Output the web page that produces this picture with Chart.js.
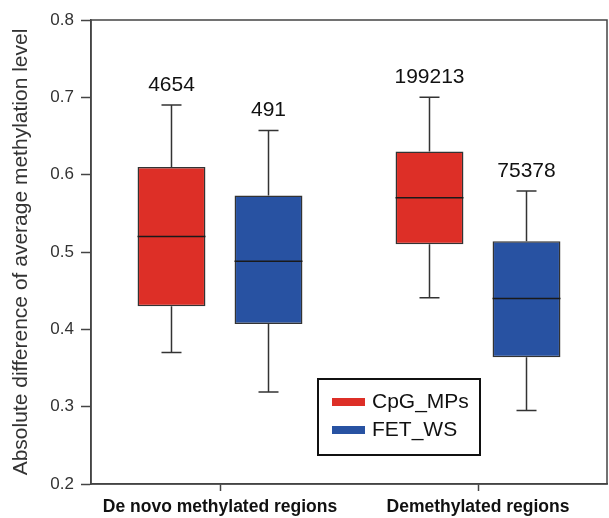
<!DOCTYPE html>
<html>
<head>
<meta charset="utf-8">
<script src="https://cdn.jsdelivr.net/npm/chart.js@4/dist/chart.umd.min.js"></script>
<style>
  body { margin: 0; background: #fff; }
  #wrap { width: 609px; height: 518px; position: relative; }
</style>
</head>
<body>
<div id="wrap"><canvas id="boxChart"></canvas></div>
<script>
// Box plot data
const categories = ["De novo methylated regions", "Demethylated regions"];
const seriesNames = ["CpG_MPs", "FET_WS"];
const seriesColors = ["#dd2f27", "#2852a2"];

const cpgMin    = [0.370, 0.441];
const cpgQ1     = [0.430, 0.510];
const cpgMedian = [0.520, 0.570];
const cpgQ3     = [0.610, 0.630];
const cpgMax    = [0.690, 0.700];
const cpgCounts = ["4654", "199213"];

const fetMin    = [0.319, 0.295];
const fetQ1     = [0.407, 0.364];
const fetMedian = [0.488, 0.440];
const fetQ3     = [0.573, 0.514];
const fetMax    = [0.657, 0.579];
const fetCounts = ["491", "75378"];

const yTicks = [0.2, 0.3, 0.4, 0.5, 0.6, 0.7, 0.8];

const FONT = "'Liberation Sans', Arial, sans-serif";

const stats = [
  { min: cpgMin, q1: cpgQ1, med: cpgMedian, q3: cpgQ3, max: cpgMax, n: cpgCounts },
  { min: fetMin, q1: fetQ1, med: fetMedian, q3: fetQ3, max: fetMax, n: fetCounts }
];

// whiskers, medians, counts, frame and legend
const boxExtras = {
  id: "boxExtras",
  afterDatasetsDraw(chart) {
    const ctx = chart.ctx;
    const y = chart.scales.y;
    const area = chart.chartArea;
    ctx.save();
    stats.forEach((s, di) => {
      const meta = chart.getDatasetMeta(di);
      meta.data.forEach((bar, i) => {
        const x = bar.x;
        const half = bar.width / 2;
        const cap = 10;
        const yMin = y.getPixelForValue(s.min[i]);
        const yMax = y.getPixelForValue(s.max[i]);
        const yQ1 = y.getPixelForValue(s.q1[i]);
        const yQ3 = y.getPixelForValue(s.q3[i]);
        const yMed = y.getPixelForValue(s.med[i]);
        ctx.strokeStyle = "#333";
        ctx.lineWidth = 1.5;
        ctx.beginPath();
        ctx.moveTo(x, yQ3); ctx.lineTo(x, yMax);
        ctx.moveTo(x - cap, yMax); ctx.lineTo(x + cap, yMax);
        ctx.moveTo(x, yQ1); ctx.lineTo(x, yMin);
        ctx.moveTo(x - cap, yMin); ctx.lineTo(x + cap, yMin);
        ctx.stroke();
        ctx.strokeStyle = "#1a1a1a";
        ctx.beginPath();
        ctx.moveTo(x - half, yMed); ctx.lineTo(x + half, yMed);
        ctx.stroke();
        // sample counts
        ctx.fillStyle = "#111";
        ctx.font = "21px " + FONT;
        ctx.textAlign = "center";
        ctx.textBaseline = "middle";
        ctx.fillText(s.n[i], x, yMax - 20);
      });
    });

    // frame around the plot
    ctx.strokeStyle = "#444";
    ctx.lineWidth = 1.5;
    ctx.strokeRect(area.left, area.top, area.right - area.left, area.bottom - area.top);

    // legend inside the plot
    const lx = 318, ly = 379, lw = 162, lh = 76;
    ctx.fillStyle = "#fff";
    ctx.fillRect(lx, ly, lw, lh);
    ctx.strokeStyle = "#111";
    ctx.lineWidth = 2;
    ctx.strokeRect(lx, ly, lw, lh);
    ctx.font = "21px " + FONT;
    ctx.textAlign = "left";
    ctx.textBaseline = "middle";
    seriesNames.forEach((name, k) => {
      const rowY = ly + 23 + k * 28;
      ctx.fillStyle = seriesColors[k];
      ctx.fillRect(lx + 14, rowY - 4, 33, 8);
      ctx.fillStyle = "#111";
      ctx.fillText(name, lx + 54, rowY);
    });
    ctx.restore();
  }
};

const ctx = document.getElementById("boxChart").getContext("2d");

new Chart(ctx, {
  type: "bar",
  data: {
    labels: categories,
    datasets: seriesNames.map((name, k) => ({
      label: name,
      data: categories.map((c, i) => [stats[k].q1[i], stats[k].q3[i]]),
      backgroundColor: seriesColors[k],
      borderColor: "#333",
      borderWidth: 1.5,
      borderSkipped: false,
      categoryPercentage: 0.752,
      barPercentage: 0.70
    }))
  },
  options: {
    responsive: true,
    maintainAspectRatio: false,
    animation: false,
    layout: { padding: { left: 0, right: 2, top: 20, bottom: 0 } },
    plugins: {
      legend: { display: false },
      tooltip: { enabled: false }
    },
    scales: {
      x: {
        afterFit: s => { s.height = 34; },
        grid: {
          offset: false,
          drawOnChartArea: false,
          drawTicks: true,
          tickLength: 7,
          tickColor: "#444",
          tickWidth: 1.5
        },
        border: { display: true, color: "#444", width: 1.5 },
        ticks: {
          color: "#111",
          padding: 6,
          font: { family: FONT, size: 17.5, weight: "bold" }
        }
      },
      y: {
        min: 0.2,
        max: 0.8,
        afterFit: s => { s.width = 91; },
        afterBuildTicks: s => { s.ticks = yTicks.map(v => ({ value: v })); },
        grid: {
          drawOnChartArea: false,
          drawTicks: true,
          tickLength: 10,
          tickColor: "#444",
          tickWidth: 1.5
        },
        border: { display: true, color: "#444", width: 1.5 },
        ticks: {
          color: "#333",
          padding: 7,
          font: { family: FONT, size: 17 },
          callback: v => v.toFixed(1)
        },
        title: {
          display: true,
          text: "Absolute difference of average methylation level",
          color: "#333",
          padding: { top: 9, bottom: 0 },
          font: { family: FONT, size: 21 }
        }
      }
    }
  },
  plugins: [boxExtras]
});
</script>
</body>
</html>
